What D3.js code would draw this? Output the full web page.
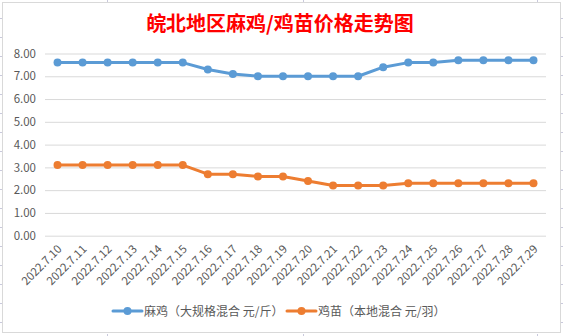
<!DOCTYPE html>
<html><head><meta charset="utf-8">
<script src="https://cdn.jsdelivr.net/npm/d3@7"></script>
<style>html,body{margin:0;padding:0;background:#fff;}svg{display:block;}</style>
</head><body><svg id="c" width="563" height="336"></svg>
<script>
const title = "皖北地区麻鸡/鸡苗价格走势图";
const categories = ["2022.7.10","2022.7.11","2022.7.12","2022.7.13","2022.7.14","2022.7.15","2022.7.16","2022.7.17","2022.7.18","2022.7.19","2022.7.20","2022.7.21","2022.7.22","2022.7.23","2022.7.24","2022.7.25","2022.7.26","2022.7.27","2022.7.28","2022.7.29"];
const seriesNames = ["麻鸡（大规格混合 元/斤）","鸡苗（本地混合 元/羽）"];
const maji = [7.6,7.6,7.6,7.6,7.6,7.6,7.3,7.1,7.0,7.0,7.0,7.0,7.0,7.4,7.6,7.6,7.7,7.7,7.7,7.7];
const jimiao = [3.1,3.1,3.1,3.1,3.1,3.1,2.7,2.7,2.6,2.6,2.4,2.2,2.2,2.2,2.3,2.3,2.3,2.3,2.3,2.3];
const yTicks = [0,1,2,3,4,5,6,7,8];
const colors = ["#5B9BD5","#ED7D31"];

const svg = d3.select("#c");
const font = "'Noto Sans CJK SC','Microsoft YaHei',sans-serif";

// spreadsheet cell lines outside the chart frame
const cellLineColor = "#c9c9dc";
const rows = d3.range(18, 336, 19);
rows.forEach(y => {
  svg.append("line").attr("x1",0).attr("x2",2).attr("y1",y+0.5).attr("y2",y+0.5).attr("stroke",cellLineColor);
  svg.append("line").attr("x1",561).attr("x2",563).attr("y1",y+0.5).attr("y2",y+0.5).attr("stroke",cellLineColor);
});
[107,303,537].forEach(x => {
  svg.append("line").attr("x1",x+0.5).attr("x2",x+0.5).attr("y1",0).attr("y2",2).attr("stroke",cellLineColor);
  svg.append("line").attr("x1",x+0.5).attr("x2",x+0.5).attr("y1",334).attr("y2",336).attr("stroke",cellLineColor);
});
// chart frame
svg.append("rect").attr("x",2.5).attr("y",2.5).attr("width",558).attr("height",330)
  .attr("fill","#fff").attr("stroke","#d9d9d9");

const plot = {l:45, r:546, t:53.5, b:235.7};
const x = d3.scaleBand().domain(categories).range([plot.l, plot.r]);
const y = d3.scaleLinear().domain([0,8]).range([plot.b, plot.t]);

// title
svg.append("text").attr("x",280).attr("y",31).attr("text-anchor","middle")
  .attr("font-family",font).attr("font-weight","bold").attr("font-size",20)
  .attr("fill","#FF0000").text(title);

// gridlines
const yAxis = d3.axisLeft(y).tickValues(yTicks).tickSize(-(plot.r-plot.l)).tickFormat(d3.format(".2f")).tickPadding(9);
const gy = svg.append("g").attr("transform",`translate(${plot.l},0)`).call(yAxis);
gy.select(".domain").remove();
gy.selectAll(".tick line").attr("stroke","#d9d9d9").attr("stroke-width",1);
gy.selectAll(".tick text").attr("font-family",font).attr("font-size",11.5).attr("fill","#595959");

// x axis labels
const xAxis = d3.axisBottom(x).tickSize(0).tickPadding(0);
const gx = svg.append("g").attr("transform",`translate(0,${plot.b})`).call(xAxis);
gx.select(".domain").remove();
gx.selectAll(".tick text")
  .attr("font-family",font).attr("font-size",11.5).attr("fill","#595959")
  .attr("text-anchor","end").attr("dy",0)
  .attr("transform","translate(5,14) rotate(-45)");

// series
const line = d3.line().x((d,i)=>x(categories[i])+x.bandwidth()/2).y(d=>y(d));
[maji, jimiao].forEach((s,k)=>{
  svg.append("path").datum(s).attr("d",line).attr("fill","none")
    .attr("stroke",colors[k]).attr("stroke-width",3).attr("stroke-linejoin","round").attr("stroke-linecap","round");
  svg.selectAll(null).data(s).enter().append("circle")
    .attr("cx",(d,i)=>x(categories[i])+x.bandwidth()/2).attr("cy",d=>y(d)).attr("r",4)
    .attr("fill",colors[k]);
});

// legend
const legendItems = [{x:113, tx:144},{x:287, tx:318}];
legendItems.forEach((it,k)=>{
  const g = svg.append("g");
  g.append("line").attr("x1",it.x).attr("x2",it.x+29).attr("y1",311).attr("y2",311)
    .attr("stroke",colors[k]).attr("stroke-width",3).attr("stroke-linecap","round");
  g.append("circle").attr("cx",it.x+14.5).attr("cy",311).attr("r",4).attr("fill",colors[k]);
  g.append("text").attr("x",it.tx).attr("y",315.5).attr("font-family",font).attr("font-size",12)
    .attr("fill","#595959").text(seriesNames[k]);
});
</script></body></html>
